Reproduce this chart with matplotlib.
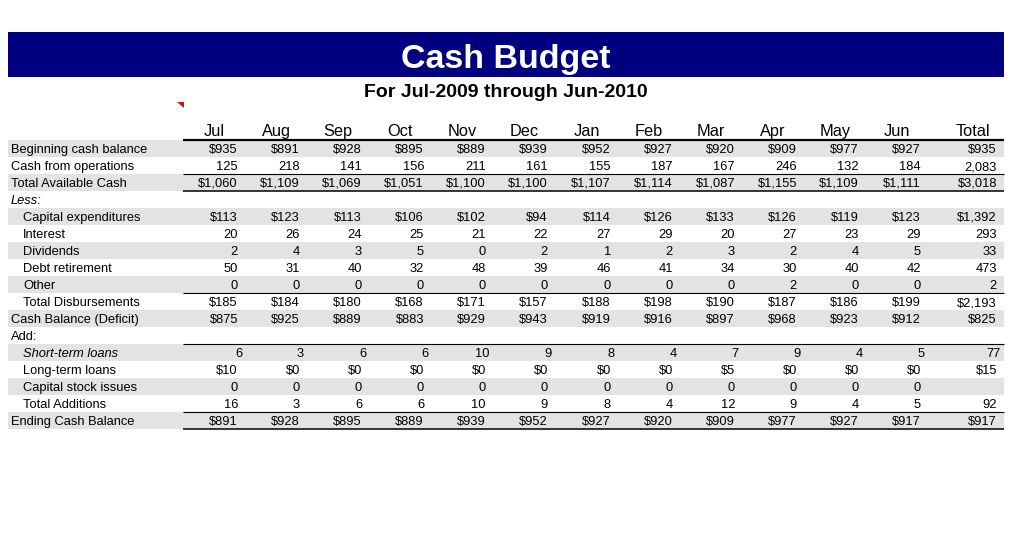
import matplotlib.pyplot as plt
from matplotlib.patches import Rectangle, Polygon

plt.rcParams['font.family'] = 'Liberation Sans'

# data
months = ['Jul', 'Aug', 'Sep', 'Oct', 'Nov', 'Dec', 'Jan', 'Feb', 'Mar', 'Apr', 'May', 'Jun', 'Total']

begin_cash = [935, 891, 928, 895, 889, 939, 952, 927, 920, 909, 977, 927, 935]
cash_ops = [125, 218, 141, 156, 211, 161, 155, 187, 167, 246, 132, 184, 2083]
total_avail = [1060, 1109, 1069, 1051, 1100, 1100, 1107, 1114, 1087, 1155, 1109, 1111, 3018]
capex = [113, 123, 113, 106, 102, 94, 114, 126, 133, 126, 119, 123, 1392]
interest = [20, 26, 24, 25, 21, 22, 27, 29, 20, 27, 23, 29, 293]
dividends = [2, 4, 3, 5, 0, 2, 1, 2, 3, 2, 4, 5, 33]
debt_ret = [50, 31, 40, 32, 48, 39, 46, 41, 34, 30, 40, 42, 473]
other = [0, 0, 0, 0, 0, 0, 0, 0, 0, 2, 0, 0, 2]
total_disb = [185, 184, 180, 168, 171, 157, 188, 198, 190, 187, 186, 199, 2193]
cash_bal = [875, 925, 889, 883, 929, 943, 919, 916, 897, 968, 923, 912, 825]
short_loans = [6, 3, 6, 6, 10, 9, 8, 4, 7, 9, 4, 5, 77]
long_loans = [10, 0, 0, 0, 0, 0, 0, 0, 5, 0, 0, 0, 15]
stock_issues = [0, 0, 0, 0, 0, 0, 0, 0, 0, 0, 0, 0, None]
total_add = [16, 3, 6, 6, 10, 9, 8, 4, 12, 9, 4, 5, 92]
end_cash = [891, 928, 895, 889, 939, 952, 927, 920, 909, 977, 927, 917, 917]

# label, values, dollar format, indent, italic
rows = [
    ('Beginning cash balance', begin_cash, True, False, False),
    ('Cash from operations', cash_ops, False, False, False),
    ('Total Available Cash', total_avail, True, False, False),
    ('Less:', None, False, False, True),
    ('Capital expenditures', capex, True, True, False),
    ('Interest', interest, False, True, False),
    ('Dividends', dividends, False, True, False),
    ('Debt retirement', debt_ret, False, True, False),
    ('Other', other, False, True, False),
    ('Total Disbursements', total_disb, True, True, False),
    ('Cash Balance (Deficit)', cash_bal, True, False, False),
    ('Add:', None, False, False, False),
    ('Short-term loans', short_loans, False, True, True),
    ('Long-term loans', long_loans, True, True, False),
    ('Capital stock issues', stock_issues, False, True, False),
    ('Total Additions', total_add, False, True, False),
    ('Ending Cash Balance', end_cash, True, False, False),
]

# (row boundary index, line width)
rules = [(1.5, 0.8), (2.5, 1.1), (8.5, 0.8), (11.5, 0.8), (15.5, 0.8), (16.5, 1.1)]


def fmt(v, dollar):
    if v is None:
        return ''
    s = f'{v:,}'
    return '$' + s if dollar else s


fig = plt.figure(figsize=(10.13, 5.5), dpi=100)
ax = fig.add_axes([0, 0, 1, 1])
ax.set_xlim(0, 1013)
ax.set_ylim(550, 0)
ax.axis('off')

left, right = 8, 1004
col_right = [238 + 62.1 * i for i in range(12)] + [997]
y0, dy = 148, 17
fs = 9.3

# title bar
ax.add_patch(Rectangle((left, 32), right - left, 45, color='#000080', lw=0))
ax.text(506, 68, 'Cash Budget', color='white', fontsize=24.5, fontweight='bold',
        ha='center', va='baseline')
ax.text(506, 97, 'For Jul-2009 through Jun-2010', color='black', fontsize=14,
        fontweight='bold', ha='center', va='baseline')
ax.add_patch(Polygon([(177, 102), (184, 102), (184, 108)], closed=True,
                     color='#cc1111', lw=0))

# header
for m, xr in zip(months, col_right):
    ax.text(xr - 24, y0 - 12, m, fontsize=11.8, ha='center', va='baseline')
ax.plot([183, right], [y0 - 8.5, y0 - 8.5], color='black', lw=1.6, solid_capstyle='butt')

for i, (label, vals, dollar, indent, italic) in enumerate(rows):
    yc = y0 + dy * i
    yb = yc + 5
    if i % 2 == 0:
        ax.add_patch(Rectangle((left, yc - dy / 2), right - left, dy,
                               color='#e3e3e3', lw=0, zorder=0))
    ax.text(23 if indent else 11, yb, label, fontsize=fs, ha='left', va='baseline',
            style='italic' if italic else 'normal')
    if vals is None:
        continue
    shift = 4 if label == 'Short-term loans' else 0
    for v, xr in zip(vals, col_right):
        ax.text(round(xr) + shift, yb, fmt(v, dollar), fontsize=fs, ha='right', va='baseline')

for b, w in rules:
    yl = y0 + dy * b
    ax.plot([183, right], [yl, yl], color='black', lw=w, solid_capstyle='butt')

fig.savefig('out.png', dpi=100)
